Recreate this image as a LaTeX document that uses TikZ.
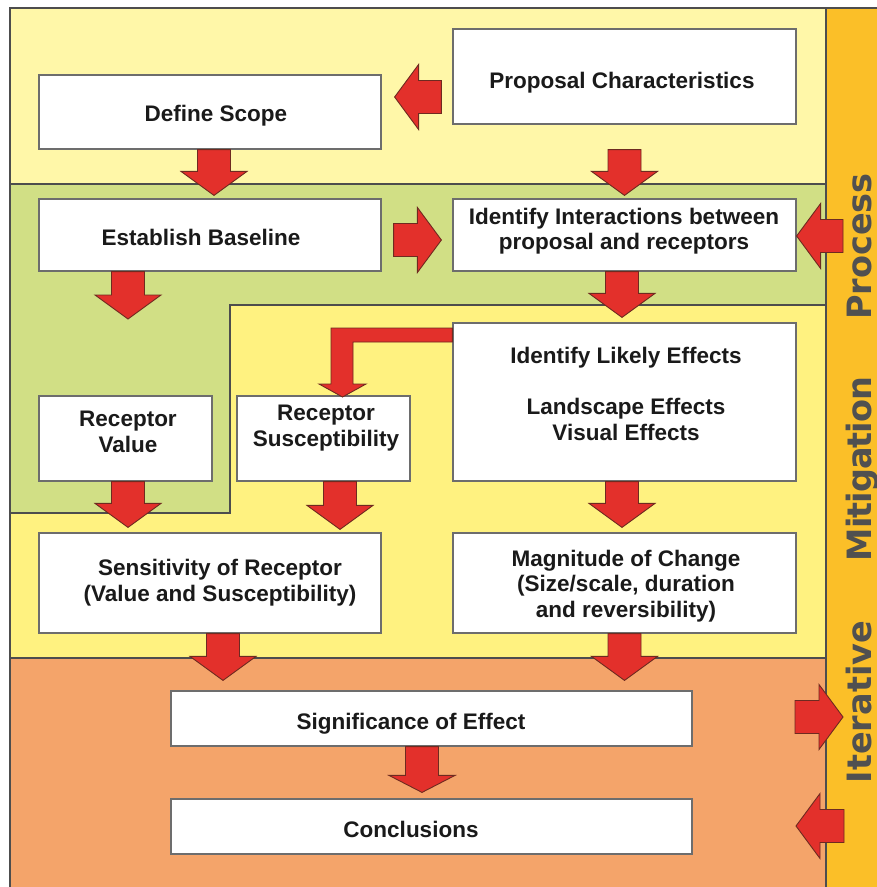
\documentclass[tikz,border=0pt]{standalone}
\usepackage{fontspec}
\setmainfont{Liberation Sans}
\newfontfamily\sidefont{DejaVu Sans}
\usetikzlibrary{calc}
\definecolor{bandA}{HTML}{FFF7A8}
\definecolor{bandG}{HTML}{D1DF85}
\definecolor{bandY}{HTML}{FFF280}
\definecolor{bandO}{HTML}{F4A46A}
\definecolor{sidec}{HTML}{FBBF28}
\definecolor{arrred}{HTML}{E3302B}
\definecolor{arrline}{HTML}{6E2A20}
\definecolor{boxline}{HTML}{6D6D6D}
\definecolor{regline}{HTML}{4D4D4D}
\definecolor{sidetxt}{HTML}{505050}
\definecolor{txtc}{HTML}{1A1A1A}
\newcommand{\DArr}[3][24]{%
  \draw[arr] let \p1=#2, \p2=#3 in
  (\x1-16.5pt,\y1) -- (\x1+16.5pt,\y1) -- (\x1+16.5pt,\y2+#1pt) -- (\x1+33pt,\y2+#1pt)
  -- (\x1,\y2) -- (\x1-33pt,\y2+#1pt) -- (\x1-16.5pt,\y2+#1pt) -- cycle;}
\newcommand{\RArr}[2]{%
  \draw[arr] let \p1=#1, \p2=#2 in
  (\x1,\y1+16.5pt) -- (\x2-24pt,\y1+16.5pt) -- (\x2-24pt,\y1+32.5pt) -- (\x2,\y1)
  -- (\x2-24pt,\y1-32.5pt) -- (\x2-24pt,\y1-16.5pt) -- (\x1,\y1-16.5pt) -- cycle;}
\newcommand{\LArr}[2]{%
  \draw[arr] let \p1=#1, \p2=#2 in
  (\x1,\y1+16.5pt) -- (\x2+24pt,\y1+16.5pt) -- (\x2+24pt,\y1+32.5pt) -- (\x2,\y1)
  -- (\x2+24pt,\y1-32.5pt) -- (\x2+24pt,\y1-16.5pt) -- (\x1,\y1-16.5pt) -- cycle;}
\begin{document}
\begin{tikzpicture}[x=1pt,y=-1pt,
  region/.style={draw=regline,line width=1.1pt},
  box/.style={rectangle,draw=boxline,fill=white,line width=1.2pt,inner sep=0pt},
  arr/.style={fill=arrred,draw=arrline,line width=0.9pt,line join=miter},
  txt/.style={font=\fontsize{22.5}{25.5}\selectfont\bfseries,text=txtc,align=center,inner sep=0pt},
  sidelab/.style={font=\sidefont\fontsize{33.5}{36}\selectfont\bfseries,text=sidetxt,rotate=90,anchor=base,inner sep=0pt}]
\useasboundingbox (0,0) rectangle (877,887);
\clip (0,0) rectangle (877,887);
\fill[white] (0,0) rectangle (877,887);
% bands
\draw[region,fill=bandA] (10,8) rectangle (826,184);
\draw[region,fill=bandG] (10,184) -- (826,184) -- (826,305) -- (230,305) -- (230,513) -- (10,513) -- cycle;
\draw[region,fill=bandY] (230,305) -- (826,305) -- (826,658) -- (10,658) -- (10,513) -- (230,513) -- cycle;
\draw[region,fill=bandO] (10,658) rectangle (826,895);
\draw[region,fill=sidec] (826,8) rectangle (885,895);
% side labels
\node[sidelab] (lproc) at (871,246.5) {Process};
\node[sidelab] (lmit) at (871,469) {\addfontfeature{LetterSpace=-3}Mitigation};
\node[sidelab] (liter) at (871,702) {Iterative};
% boxes
\node[box,minimum width=342,minimum height=74] (scope) at (210,112) {};
\node[box,minimum width=343,minimum height=95] (prop) at (624.5,76.5) {};
\node[box,minimum width=342,minimum height=72] (baseline) at (210,235) {};
\node[box,minimum width=343,minimum height=72] (inter) at (624.5,235) {};
\node[box,minimum width=343,minimum height=158] (likely) at (624.5,402) {};
\node[box,minimum width=173,minimum height=85] (rv) at (125.5,438.5) {};
\node[box,minimum width=173,minimum height=85] (rs) at (323.5,438.5) {};
\node[box,minimum width=342,minimum height=100] (sens) at (210,583) {};
\node[box,minimum width=343,minimum height=100] (mag) at (624.5,583) {};
\node[box,minimum width=521,minimum height=55] (sig) at (431.5,718.5) {};
\node[box,minimum width=521,minimum height=55] (conc) at (431.5,826.5) {};
% texts (base anchor = baseline of last line)
\node[txt,anchor=base] (scope-t) at (216,121) {Define Scope};
\node[txt,anchor=base] (prop-t) at (622,88) {Proposal Characteristics};
\node[txt,anchor=base] (baseline-t) at (201,245) {Establish Baseline};
\node[txt,anchor=base] (inter-t) at (624,249.5) {Identify Interactions between\\proposal and receptors};
\node[txt,anchor=base] (likely-t) at (626,440) {Identify Likely Effects\\[25.5pt]Landscape Effects\\Visual Effects};
\node[txt,anchor=base] (rv-t) at (128,452) {Receptor\\Value};
\node[txt,anchor=base] (rs-t) at (326,446) {Receptor\\Susceptibility};
\node[txt,anchor=base] (sens-t) at (220,601) {Sensitivity of Receptor\\(Value and Susceptibility)};
\node[txt,anchor=base] (mag-t) at (626,617) {Magnitude of Change\\(Size/scale, duration\\and reversibility)};
\node[txt,anchor=base] (sig-t) at (411,729) {Significance of Effect};
\node[txt,anchor=base] (conc-t) at (411,837) {Conclusions};
% free ends
\coordinate (bfree) at (128,319);
\coordinate (sideA) at (843,236);
\coordinate (sigOut) at (795,717);
\coordinate (sideB) at (843,717);
\coordinate (sideC) at (844,826);
\coordinate (concIn) at (796,826);
% vertical arrows
\DArr{([xshift=4pt]scope.south)}{([yshift=3pt]baseline.north)}
\DArr{([yshift=-25pt]prop.south)}{([yshift=3pt]inter.north)}
\DArr{([xshift=-2.5pt]inter.south)}{([yshift=5pt]likely.north)}
\DArr{(baseline.south -| bfree)}{(bfree)}
\DArr{([xshift=2.5pt]rv.south)}{([yshift=5pt]sens.north)}
\DArr{([xshift=16.5pt]rs.south)}{([yshift=3pt]sens.north)}
\DArr{([xshift=-2.5pt]likely.south)}{([yshift=5pt]mag.north)}
\DArr{([xshift=13pt]sens.south)}{([yshift=10pt]sig.north)}
\DArr{(mag.south)}{([yshift=10pt]mag.south |- sig.north)}
\DArr[17]{([xshift=-9.5pt]sig.south)}{([yshift=6pt]conc.north)}
% horizontal arrows
\LArr{([xshift=-11pt,yshift=-20.5pt]prop.west)}{([xshift=13pt]scope.east)}
\RArr{([xshift=12pt,yshift=-5pt]baseline.east)}{([xshift=-11pt]inter.west)}
\LArr{(sideA)}{(inter.east)}
\RArr{(sigOut)}{(sideB)}
\LArr{(sideC)}{(concIn)}
% bent arrow from likely effects to receptor susceptibility
\draw[arr] (likely.west |- 0,328) -- (331,328) -- (331,384) -- (319,384) -- (342.5,397)
  -- (366,384) -- (353,384) -- (353,342) -- (likely.west |- 0,342) -- cycle;
\end{tikzpicture}
\end{document}
